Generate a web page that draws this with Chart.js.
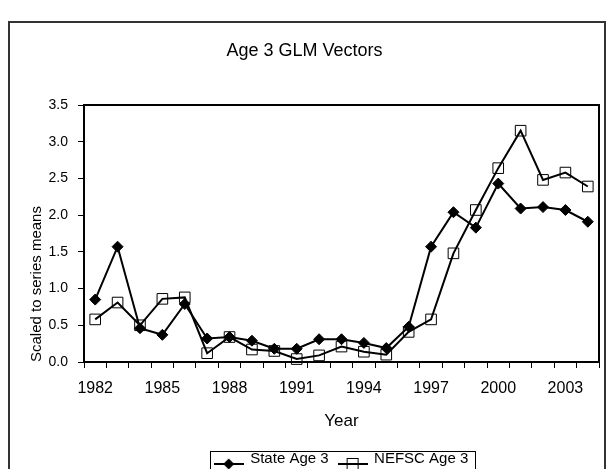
<!DOCTYPE html>
<html>
<head>
<meta charset="utf-8">
<script src="https://cdn.jsdelivr.net/npm/chart.js@4.4.1/dist/chart.umd.min.js"></script>
<style>
  html, body { margin: 0; padding: 0; background: #fff; width: 611px; height: 469px; overflow: hidden; }
  #frame { position: absolute; left: 8px; top: 21px; width: 594px; height: 520px; border: 2px solid #333; }
  #glm { position: absolute; left: 0; top: 0; }
</style>
</head>
<body>
<div id="frame"></div>
<canvas id="glm" width="611" height="490"></canvas>

<script>
// values
const years = ['1982', '1983', '1984', '1985', '1986', '1987', '1988', '1989', '1990', '1991', '1992', '1993',
               '1994', '1995', '1996', '1997', '1998', '1999', '2000', '2001', '2002', '2003', '2004'];
const stateAge3 = [0.85, 1.57, 0.46, 0.37, 0.79, 0.32, 0.34, 0.29, 0.18, 0.18, 0.31, 0.31,
                   0.26, 0.19, 0.48, 1.57, 2.04, 1.83, 2.43, 2.09, 2.11, 2.07, 1.91];
const nefscAge3 = [0.58, 0.81, 0.50, 0.86, 0.88, 0.12, 0.34, 0.17, 0.15, 0.04, 0.09, 0.21,
                   0.14, 0.10, 0.41, 0.58, 1.48, 2.07, 2.64, 3.15, 2.48, 2.58, 2.39];
const yMin = 0, yMax = 3.5, yStep = 0.5;
const yearEvery = 3;   // label every third year

Chart.defaults.font.family = 'Arial, "Liberation Sans", sans-serif';
Chart.defaults.color = '#000';

// little line+marker pictures for the legend
function legendIcon(kind) {
  const c = document.createElement('canvas');
  c.width = 30; c.height = 24;
  const g = c.getContext('2d');
  g.strokeStyle = '#000';
  g.lineWidth = 2;
  g.beginPath(); g.moveTo(0, 17); g.lineTo(30, 17); g.stroke();
  g.lineWidth = 1;
  if (kind == 'diamond') {
    g.beginPath();
    g.moveTo(15, 11.5); g.lineTo(20.5, 17); g.lineTo(15, 22.5); g.lineTo(9.5, 17);
    g.closePath();
    g.fillStyle = '#000';
    g.fill();
  } else {
    g.strokeRect(9.5, 11.5, 11, 11);
  }
  return c;
}
const icons = [legendIcon('diamond'), legendIcon('square')];

// box round the plot area and round the legend
const boxes = {
  id: 'boxes',
  beforeDatasetsDraw(chart) {
    const a = chart.chartArea, ctx = chart.ctx;
    ctx.save();
    ctx.strokeStyle = '#000';
    ctx.lineWidth = 2;
    ctx.strokeRect(a.left, a.top, a.right - a.left, a.bottom - a.top);
    ctx.restore();
  },
  afterDraw(chart) {
    const hb = chart.legend.legendHitBoxes;
    if (!hb || !hb.length) return;
    const ctx = chart.ctx;
    const last = hb[hb.length - 1];
    const left = Math.round(hb[0].left - 5) + 0.5;
    const right = Math.round(last.left + last.width + 7) + 0.5;
    const top = Math.round(hb[0].top - 1) + 0.5;
    ctx.save();
    ctx.strokeStyle = '#000';
    ctx.lineWidth = 1;
    ctx.strokeRect(left, top, right - left, chart.height);
    ctx.restore();
  }
};

new Chart(document.getElementById('glm'), {
  type: 'line',
  data: {
    labels: years,
    datasets: [
      {
        label: 'State Age 3',
        data: stateAge3,
        borderColor: '#000',
        borderWidth: 2,
        tension: 0,
        pointStyle: 'rectRot',
        pointRadius: 5.5,
        pointBackgroundColor: '#000',
        pointBorderColor: '#000',
        pointBorderWidth: 1,
        clip: false
      },
      {
        label: 'NEFSC Age 3',
        data: nefscAge3,
        borderColor: '#000',
        borderWidth: 2,
        tension: 0,
        pointStyle: 'rect',
        pointRadius: 7.5,
        pointBackgroundColor: 'rgba(0,0,0,0)',
        pointBorderColor: '#000',
        pointBorderWidth: 1,
        clip: false
      }
    ]
  },
  options: {
    responsive: false,
    animation: false,
    events: [],
    layout: { padding: { top: 0, left: 10, right: 12, bottom: 13.5 } },
    plugins: {
      title: {
        display: true,
        text: 'Age 3 GLM Vectors',
        font: { size: 18, weight: 'normal' },
        color: '#000',
        padding: { top: 40, bottom: 43.4 }
      },
      legend: {
        position: 'bottom',
        fullSize: false,
        labels: {
          usePointStyle: true,
          pointStyleWidth: 28,
          font: { size: 15 },
          color: '#000',
          padding: 10,
          generateLabels: chart => chart.data.datasets.map((ds, i) => ({
            text: ds.label,
            pointStyle: icons[i],
            datasetIndex: i,
            hidden: false,
            lineWidth: 0,
            strokeStyle: 'rgba(0,0,0,0)',
            fillStyle: 'rgba(0,0,0,0)',
            fontColor: '#000'
          }))
        }
      },
      tooltip: { enabled: false }
    },
    scales: {
      x: {
        type: 'category',
        offset: true,
        grid: { offset: true, drawOnChartArea: false, tickLength: 6, color: '#000', lineWidth: 1 },
        border: { display: false },
        ticks: {
          autoSkip: false,
          maxRotation: 0,
          padding: 11,
          font: { size: 16 },
          color: '#000',
          callback: (v, i) => (i % yearEvery == 0 ? years[i] : '')
        },
        title: { display: true, text: 'Year', font: { size: 17 }, color: '#000', padding: { top: 4, bottom: 10 } },
        afterFit: s => { s.height = 79.5; }
      },
      y: {
        min: yMin,
        max: yMax,
        grid: { drawOnChartArea: false, tickLength: 6, color: '#000', lineWidth: 1 },
        border: { display: false },
        ticks: {
          stepSize: yStep,
          padding: 10,
          font: { size: 14 },
          color: '#000',
          callback: v => v.toFixed(1)
        },
        title: {
          display: true,
          text: 'Scaled to series means',
          align: 'start',
          font: { size: 15 },
          color: '#000',
          padding: { top: 18, bottom: 0 }
        },
        afterFit: s => { s.width = 74; }
      }
    }
  },
  plugins: [boxes]
});
</script>
</body>
</html>
